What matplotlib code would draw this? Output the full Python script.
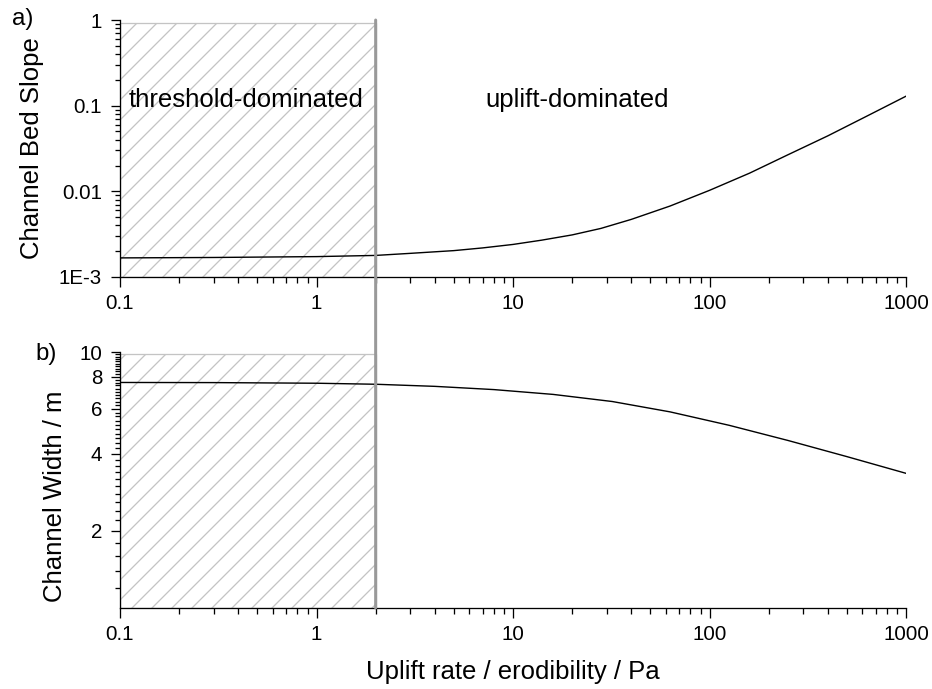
import matplotlib
matplotlib.use('Agg')
import matplotlib.pyplot as plt
from matplotlib.ticker import LogLocator, NullFormatter, FixedLocator
from matplotlib.patches import Rectangle, ConnectionPatch
import numpy as np

# ---------------- data ----------------
x_slope = [0.1, 0.3, 1, 2, 3, 5, 7, 10, 14, 20, 28, 40, 63, 100, 160, 250, 400, 630, 1000]
slope = [0.001671, 0.001690, 0.001730, 0.001786, 0.001888, 0.002032, 0.002185,
         0.002399, 0.002692, 0.003100, 0.003690, 0.004705, 0.006737, 0.010268,
         0.016312, 0.026637, 0.044412, 0.075219, 0.12897]

x_width = [0.1, 0.3, 1, 2, 4, 8, 16, 32, 63, 126, 251, 500, 1000]
width = [7.603, 7.594, 7.551, 7.482, 7.342, 7.131, 6.829, 6.406, 5.836, 5.171,
         4.512, 3.903, 3.358]

x_ticks = [0.1, 1, 10, 100, 1000]
x_ticklabels = ['0.1', '1', '10', '100', '1000']
slope_ticks = [1e-3, 0.01, 0.1, 1]
slope_ticklabels = ['1E-3', '0.01', '0.1', '1']
width_ticks = [2, 4, 6, 8, 10]
width_ticklabels = ['2', '4', '6', '8', '10']

threshold_x = 2
region_left = 0.1
slope_region_top = 0.93
width_region_top = 9.8

# ---------------- style ----------------
DPI = 120
PX = 72.0 / DPI  # points per pixel

plt.rcParams['font.family'] = ['Liberation Sans', 'DejaVu Sans']
plt.rcParams['hatch.linewidth'] = 1.3 * PX

fig = plt.figure(figsize=(932 / DPI, 689 / DPI), dpi=DPI)
ax1 = fig.add_axes([120 / 932, 1 - 277 / 689, 786 / 932, 257 / 689])
ax2 = fig.add_axes([120 / 932, 1 - 608 / 689, 786 / 932, 256 / 689])

tick_fs = 20.5 * PX
label_fs = 25.8 * PX
hatch_col = '#c4c4c4'

for ax in (ax1, ax2):
    ax.set_xscale('log')
    ax.set_yscale('log')
    ax.set_xlim(0.1, 1000)
    for s in ('top', 'right'):
        ax.spines[s].set_visible(False)
    for s in ('left', 'bottom'):
        ax.spines[s].set_linewidth(1.3 * PX)
    ax.set_xticks(x_ticks, labels=x_ticklabels)
    ax.xaxis.set_minor_locator(LogLocator(base=10, subs=range(2, 10)))
    ax.xaxis.set_minor_formatter(NullFormatter())
    ax.tick_params(which='major', direction='out', length=9.5 * PX, width=1.3 * PX,
                   labelsize=tick_fs)
    ax.tick_params(which='minor', direction='out', length=5.5 * PX, width=1.3 * PX)
    ax.tick_params(axis='x', which='major', pad=7.5 * PX)
    ax.tick_params(axis='y', which='major', pad=8.5 * PX)

# ---- top panel ----
ax1.set_ylim(1e-3, 1)
ax1.set_yticks(slope_ticks, labels=slope_ticklabels)
ax1.yaxis.set_minor_locator(LogLocator(base=10, subs=range(2, 10)))
ax1.yaxis.set_minor_formatter(NullFormatter())
ax1.add_patch(Rectangle((region_left, 1e-3), threshold_x - region_left,
                        slope_region_top - 1e-3, fill=False, hatch='//',
                        edgecolor=hatch_col, linewidth=1.3 * PX, zorder=1))
ax1.plot(x_slope, slope, color='black', lw=1.4 * PX, zorder=3)
ax1.set_ylabel('Channel Bed Slope', fontsize=label_fs)
ax1.yaxis.set_label_coords(-0.097, 0.5)
ax1.text(0.11, 0.096, 'threshold-dominated', fontsize=label_fs,
         ha='left', va='baseline', zorder=4)
ax1.text(21.3, 0.096, 'uplift-dominated', fontsize=label_fs,
         ha='center', va='baseline', zorder=4)

# ---- bottom panel ----
ax2.set_ylim(1, 10)
ax2.set_yticks(width_ticks, labels=width_ticklabels)
minor_w = [v for v in np.round(np.arange(1.2, 10.0, 0.2), 1) if v not in width_ticks]
ax2.yaxis.set_minor_locator(FixedLocator(minor_w))
ax2.yaxis.set_minor_formatter(NullFormatter())
ax2.add_patch(Rectangle((region_left, 1), threshold_x - region_left,
                        width_region_top - 1, fill=False, hatch='//',
                        edgecolor=hatch_col, linewidth=1.3 * PX, zorder=1))
ax2.plot(x_width, width, color='black', lw=1.4 * PX, zorder=3)
ax2.set_ylabel('Channel Width / m', fontsize=label_fs)
ax2.yaxis.set_label_coords(-0.067, 0.4375)
ax2.set_xlabel('Uplift rate / erodibility / Pa', fontsize=label_fs)
ax2.xaxis.set_label_coords(0.5, -0.203)

# ---- threshold line across both panels ----
con = ConnectionPatch(xyA=(threshold_x, 1), coordsA='data', axesA=ax1,
                      xyB=(threshold_x, 1), coordsB='data', axesB=ax2,
                      color='#999999', lw=3 * PX, shrinkA=0, shrinkB=0, zorder=5)
fig.add_artist(con)

# ---- panel letters ----
fig.text(12 / 932, 1 - 25 / 689, 'a)', fontsize=24 * PX, ha='left', va='baseline')
fig.text(35 / 932, 1 - 360 / 689, 'b)', fontsize=24 * PX, ha='left', va='baseline')

fig.savefig('out.png', dpi=DPI)
